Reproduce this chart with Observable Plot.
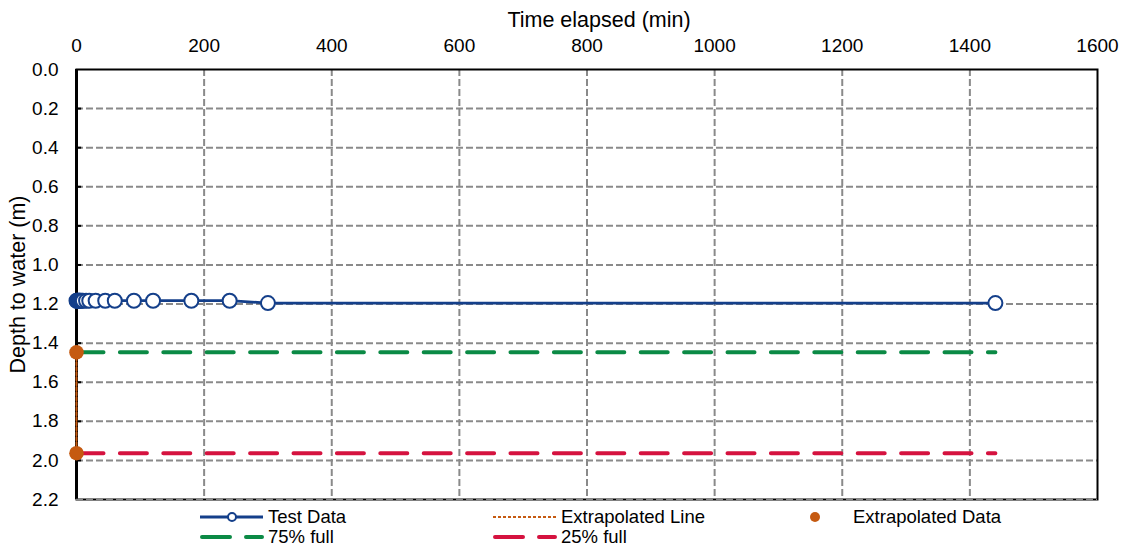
<!DOCTYPE html>
<html><head><meta charset="utf-8">
<script src="https://cdn.jsdelivr.net/npm/d3@7"></script>
<script src="https://cdn.jsdelivr.net/npm/@observablehq/plot@0.6"></script>
<style>
body{margin:0;background:#fff;font-family:"Liberation Sans",Arial,sans-serif}
#wrap{position:relative;width:1121px;height:548px}
#wrap svg{position:absolute;left:0;overflow:visible}
</style>
</head><body><div id="wrap"></div>
<script>
// ---- data ----
const testTimes  = [0,1,2,3,4,5,6,8,10,15,20,30,45,60,90,120,180,240,300,1440];
const testDepths = [1.183,1.183,1.183,1.183,1.183,1.183,1.183,1.183,1.183,1.183,1.183,1.183,1.183,1.183,1.183,1.183,1.183,1.183,1.195,1.195];
const extrapTimes  = [0,0];
const extrapDepths = [1.447,1.963];
const levelTimes = [0,1440];
const level75 = 1.447;
const level25 = 1.963;
const xTicks = [0,200,400,600,800,1000,1200,1400,1600];
const yTicks = [0,0.2,0.4,0.6,0.8,1.0,1.2,1.4,1.6,1.8,2.0,2.2];
const xLabel = "Time elapsed (min)";
const yLabel = "Depth to water (m)";
const legendNames = ["Test Data","Extrapolated Line","Extrapolated Data","75% full","25% full"];

const C = {test:"#143f8a", orange:"#c55a11", green:"#0b8a45", red:"#d5123f", grid:"#8a8a8a"};
const FS = 19, FT = 21.5, FL = 18.5;
const FONT = '"Liberation Sans",Arial,sans-serif';

const test = testTimes.map((t,i)=>({t, d:testDepths[i]}));
const extrap = extrapTimes.map((t,i)=>({t, d:extrapDepths[i]}));
const innerX = xTicks.slice(1,-1);
const innerY = yTicks.slice(1,-1);

const chart = Plot.plot({
  width:1121, height:512,
  marginLeft:76, marginRight:24, marginTop:69, marginBottom:13,
  style:{fontFamily:FONT, fontSize:FS+"px", background:"transparent", overflow:"visible"},
  x:{domain:[0,1600], axis:null},
  y:{domain:[0,2.2], reverse:true, axis:null},
  marks:[
    Plot.gridX(innerX, {stroke:C.grid, strokeOpacity:1, strokeWidth:2, strokeDasharray:"7,3"}),
    Plot.gridY(innerY, {stroke:C.grid, strokeOpacity:1, strokeWidth:2, strokeDasharray:"7,3"}),
    Plot.frame({stroke:"#000", strokeWidth:2}),
    Plot.ruleX([0], {stroke:"#000", strokeWidth:3}),
    Plot.gridY([2.2], {stroke:C.grid, strokeOpacity:1, strokeWidth:1.5, strokeDasharray:"7,3"}),
    Plot.ruleY(innerY, {x1:0, x2:8, stroke:"#000", strokeWidth:2}),
    Plot.line(levelTimes, {x:d=>d, y:()=>level75, stroke:C.green, strokeWidth:4, strokeDasharray:"27,16.4", strokeLinecap:"round"}),
    Plot.line(levelTimes, {x:d=>d, y:()=>level25, stroke:C.red, strokeWidth:4, strokeDasharray:"27,16.4", strokeLinecap:"round"}),
    Plot.line(extrap, {x:"t", y:"d", stroke:C.orange, strokeWidth:2, strokeDasharray:"3,2"}),
    Plot.line(test, {x:"t", y:"d", stroke:C.test, strokeWidth:2.8}),
    Plot.dot(test, {x:"t", y:"d", r:7, stroke:C.test, strokeWidth:2, fill:"#fff"}),
    Plot.dot(extrap, {x:"t", y:"d", r:7.3, fill:C.orange, stroke:"none"}),
    Plot.axisX(xTicks, {anchor:"top", tickSize:0, tickPadding:18, fontSize:FS, label:null, tickFormat:d=>String(d)}),
    Plot.axisY(yTicks, {anchor:"left", tickSize:0, tickPadding:18, fontSize:FS, label:null, tickFormat:d3.format(".1f")}),
    Plot.text([xLabel], {frameAnchor:"top", dx:12, dy:-49, lineAnchor:"middle", textAnchor:"middle", text:d=>d, fontSize:FT, fill:"#000"}),
    Plot.text([yLabel], {frameAnchor:"left", dx:-58, rotate:-90, lineAnchor:"middle", textAnchor:"middle", text:d=>d, fontSize:FT, fill:"#000"})
  ]
});
chart.style.top = "0px";
document.getElementById("wrap").appendChild(chart);

// ---- legend ----
const lg = d3.create("svg").attr("width",1121).attr("height",43).style("top","505px")
  .style("font-family",FONT).style("font-size",FL+"px");
const r1 = 12, r2 = 32;
function label(x,y,t){ lg.append("text").attr("x",x).attr("y",y).attr("dy","0.35em").attr("fill","#000").text(t); }
// Test Data
lg.append("line").attr("x1",200).attr("x2",263).attr("y1",r1).attr("y2",r1).attr("stroke",C.test).attr("stroke-width",2.8);
lg.append("circle").attr("cx",232).attr("cy",r1).attr("r",4).attr("fill","#fff").attr("stroke",C.test).attr("stroke-width",2);
label(268,r1,legendNames[0]);
// Extrapolated Line
lg.append("line").attr("x1",493).attr("x2",558).attr("y1",r1).attr("y2",r1).attr("stroke",C.orange).attr("stroke-width",2).attr("stroke-dasharray","3,2");
label(561,r1,legendNames[1]);
// Extrapolated Data
lg.append("circle").attr("cx",815).attr("cy",r1).attr("r",5).attr("fill",C.orange);
label(853,r1,legendNames[2]);
// 75% full
lg.append("line").attr("x1",202).attr("x2",262).attr("y1",r2).attr("y2",r2).attr("stroke",C.green).attr("stroke-width",4).attr("stroke-linecap","round").attr("stroke-dasharray","28,16");
label(268,r2,legendNames[3]);
// 25% full
lg.append("line").attr("x1",495).attr("x2",555).attr("y1",r2).attr("y2",r2).attr("stroke",C.red).attr("stroke-width",4).attr("stroke-linecap","round").attr("stroke-dasharray","28,16");
label(561,r2,legendNames[4]);
document.getElementById("wrap").appendChild(lg.node());
</script>
</body></html>
